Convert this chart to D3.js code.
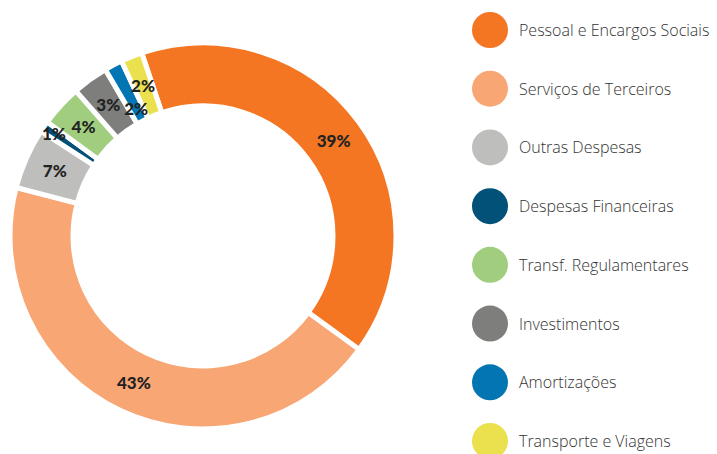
<!doctype html>
<html>
<head>
    <meta charset="utf-8">
    <title>Despesas</title>
    <script src="https://d3js.org/d3.v7.min.js"></script>
    <style>
        body { margin: 0; background: #fff; }
    </style>
</head>
<body>
<script>
    // categorias (ordem da legenda e do anel)
    var categories = ["Pessoal e Encargos Sociais", "Serviços de Terceiros", "Outras Despesas",
        "Despesas Financeiras", "Transf. Regulamentares", "Investimentos", "Amortizações",
        "Transporte e Viagens"];
    // participação estimada pelo tamanho das fatias
    var shares = [40.1, 44.0, 5.1, 0.9, 3.5, 3.0, 1.5, 1.8];
    // rótulos impressos no gráfico
    var labels = ["39%", "43%", "7%", "1%", "4%", "3%", "2%", "2%"];
    var colors = ["#f47622", "#f8a674", "#bebebd", "#015178", "#a1ce7e", "#7e7e7d", "#0375b2", "#ebe04e"];

    var width = 717, height = 454;
    var cx = 203, cy = 236, rOuter = 193, rInner = 130;

    var svg = d3.select("body").append("svg").attr("width", width).attr("height", height);

    var data = categories.map(function (c, i) {
        return { name: c, value: shares[i], label: labels[i], color: colors[i], index: i };
    });

    var start = -18.5 * Math.PI / 180;
    var pie = d3.pie().sort(null).value(function (d) { return d.value; })
        .startAngle(start).endAngle(start + 2 * Math.PI);
    var arc = d3.arc().innerRadius(rInner).outerRadius(rOuter);

    var g = svg.append("g").attr("transform", "translate(" + cx + "," + cy + ")");
    var arcs = pie(data);

    g.selectAll("path")
        .data(arcs)
        .enter()
        .append("path")
        .attr("d", arc)
        .attr("fill", function (d) { return d.data.color; })
        .attr("stroke", "#fff")
        .attr("stroke-width", 5);

    // rótulos pequenos deslocados para não se sobreporem
    function labelRadius(d) {
        if (d.data.index === 3) return 181;
        if (d.data.index === 6) return 144;
        return 162;
    }

    g.selectAll("text")
        .data(arcs)
        .enter()
        .append("text")
        .attr("transform", function (d) {
            var a = (d.startAngle + d.endAngle) / 2, r = labelRadius(d);
            return "translate(" + (Math.sin(a) * r) + "," + (-Math.cos(a) * r) + ")";
        })
        .attr("text-anchor", "middle")
        .attr("dominant-baseline", "central")
        .attr("font-family", "Lato, 'DejaVu Sans', sans-serif")
        .attr("font-weight", 900)
        .attr("font-size", 17)
        .attr("fill", "#222")
        .text(function (d) { return d.data.label; });

    // legenda
    var y = d3.scalePoint().domain(categories).range([30, 441]);

    var legend = svg.selectAll("g.legend")
        .data(data)
        .enter()
        .append("g")
        .attr("class", "legend")
        .attr("transform", function (d) { return "translate(490," + y(d.name) + ")"; });

    legend.append("circle")
        .attr("r", 18)
        .attr("fill", function (d) { return d.color; });

    legend.append("text")
        .attr("x", 29)
        .attr("dominant-baseline", "central")
        .attr("font-family", "'Open Sans', sans-serif")
        .attr("font-weight", 300)
        .attr("font-size", 16)
        .attr("fill", "#333")
        .text(function (d) { return d.name; });
</script>
</body>
</html>
